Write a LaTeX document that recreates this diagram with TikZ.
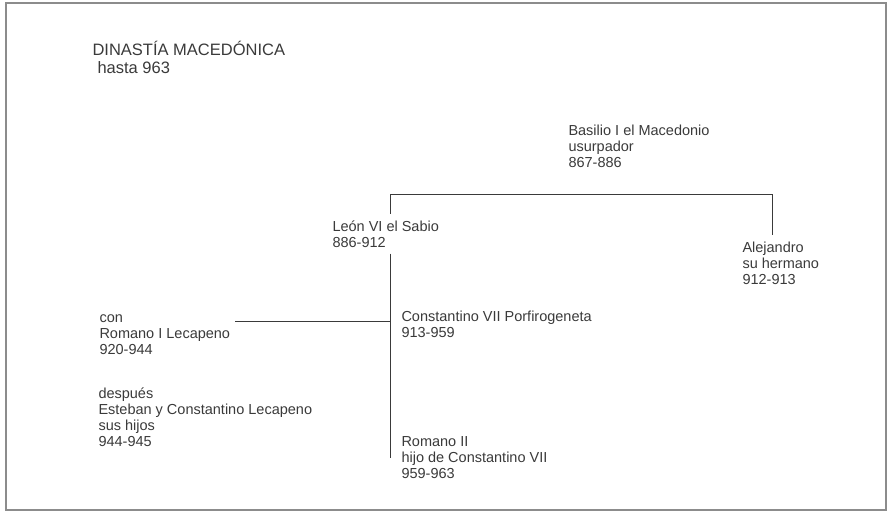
\documentclass[tikz,border=0pt]{standalone}
\usepackage{fontspec}
\setmainfont{Liberation Sans}
\definecolor{ink}{HTML}{3A3A3A}
\definecolor{framegray}{HTML}{8C8C8C}

\begin{document}
\begin{tikzpicture}[x=1pt, y=-1pt, line width=1pt,
  % anchored on the baseline of the last line
  ruler/.style={anchor=base west, align=left, inner xsep=0pt, inner ysep=6pt,
    text=ink, font=\fontsize{14.5}{16}\selectfont},
  heading/.style={anchor=base west, inner sep=0pt, text=ink,
    font=\fontsize{16.5}{18}\selectfont}]
  \useasboundingbox (0,0) rectangle (888,514);
  \draw[framegray, line width=1.5pt] (6,3) rectangle (886,510);

  \node[heading] (title) at (92,55) {DINASTÍA MACEDÓNICA};
  \node[heading] (until) at (97,73) {hasta 963};

  \node[ruler] (basil) at (568,167) {Basilio I el Macedonio\\usurpador\\867-886};
  \node[ruler] (leon) at (332,247) {León VI el Sabio\\886-912};
  \node[ruler] (alej) at (742,284) {Alejandro\\su hermano\\912-913};
  \node[ruler] (const) at (401,337) {Constantino VII Porfirogeneta\\913-959};
  \node[ruler] (romI) at (99,354) {con\\Romano I Lecapeno\\920-944};
  \node[ruler] (steph) at (98,446) {después\\Esteban y Constantino Lecapeno\\sus hijos\\944-945};
  \node[ruler] (romII) at (401,478) {Romano II\\hijo de Constantino VII\\959-963};

  \coordinate (barL) at (390,194);
  \coordinate (barR) at (772,194);
  \coordinate (stemEnd) at (390,458);
  \coordinate (coreg) at (235,321);

  \draw[ink] (barL |- leon.north) -- (barL) -- (barR) -- (barR |- alej.north);
  \draw[ink] (barL |- leon.south) -- (stemEnd);
  \draw[ink] (coreg) -- (coreg -| stemEnd);
\end{tikzpicture}
\end{document}
